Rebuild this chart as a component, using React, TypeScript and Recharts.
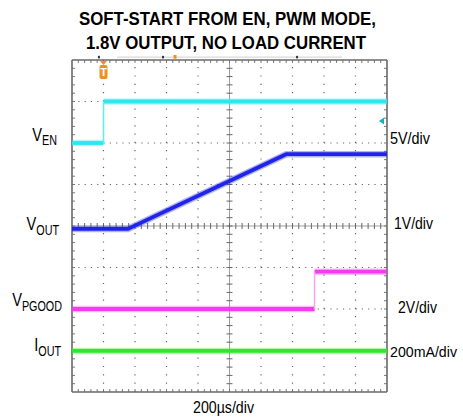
import React from 'react';
import { LineChart, Line, XAxis, YAxis, ReferenceLine, ReferenceDot } from 'recharts';

// scope capture, 200us/div, 10 x 8 divisions
const enTimeUs = [0, 200, 200, 2000];
const enVolts = [0, 0, 5, 5];
const outTimeUs = [0, 355, 1360, 2000];
const outVolts = [0, 0, 1.8, 1.8];
const pgoodTimeUs = [0, 1540, 1540, 2000];
const pgoodVolts = [0, 0, 1.8, 1.8];
const ioutTimeUs = [0, 2000];
const ioutMilliamps = [0, 0];

const majorTimes = [200, 400, 600, 800, 1200, 1400, 1600, 1800];
const majorDivs = [1, 2, 3, 5, 6, 7];

const channels = [
  { name: 'en', time: enTimeUs, values: enVolts, perDiv: 5, zeroDiv: 6.0, color: '#2ee6ee', edge: '#5eeef4' },
  { name: 'out', time: outTimeUs, values: outVolts, perDiv: 1, zeroDiv: 3.93, color: '#1f24e8', edge: '#4a50f0' },
  { name: 'pgood', time: pgoodTimeUs, values: pgoodVolts, perDiv: 2, zeroDiv: 2.0, color: '#f23cee', edge: '#f7a6f2' },
  { name: 'iout', time: ioutTimeUs, values: ioutMilliamps, perDiv: 200, zeroDiv: 0.99, color: '#2ee82e', edge: '#2ee82e' },
];

type Pt = { t: number; v: number };

function splitTrace(ch: (typeof channels)[number]) {
  const pts: Pt[] = ch.time.map((t, i) => ({ t, v: ch.zeroDiv + ch.values[i] / ch.perDiv }));
  const runs: Pt[][] = [];
  const edges: Pt[][] = [];
  let run: Pt[] = [pts[0]];
  for (let i = 0; i < pts.length - 1; i++) {
    if (pts[i].t === pts[i + 1].t) {
      runs.push(run);
      edges.push([pts[i], pts[i + 1]]);
      run = [pts[i + 1]];
    } else {
      run.push(pts[i + 1]);
    }
  }
  runs.push(run);
  return { runs, edges };
}

const subX = Array.from({ length: 49 }, (_, i) => (i + 1) * 40);
const subY = Array.from({ length: 39 }, (_, i) => +((i + 1) * 0.2).toFixed(2));
const TX = 19; // 3px in time units
const TY = 0.072; // 3px in div units

const font = '"Liberation Sans", Arial, sans-serif';

function Trigger({ cx, cy }: any) {
  return (
    <g>
      <polygon points={`${cx - 3.5},${cy + 1} ${cx + 3.5},${cy + 1} ${cx},${cy + 5}`} fill="#f0901e" />
      <rect x={cx - 4} y={cy + 5} width={8} height={14} rx={2} fill="#f0901e" />
      <text x={cx} y={cy + 16} textAnchor="middle" fontSize={11} fontWeight="bold" fill="#fff" fontFamily={font}>
        T
      </text>
    </g>
  );
}

function LevelMark({ cx, cy }: any) {
  return <polygon points={`${cx - 8},${cy} ${cx - 3},${cy - 3.5} ${cx - 3},${cy + 3.5}`} fill="#1fb0b4" />;
}

function LeftLabel({ main, sub, right, y }: { main: string; sub: string; right: number; y: number }) {
  return (
    <g transform={`translate(${right},${y}) scale(0.77,1)`}>
      <text textAnchor="end" fontSize={19} fontFamily={font} fill="#000">
        {main}
        <tspan fontSize={14} dy={4.5}>
          {sub}
        </tspan>
      </text>
    </g>
  );
}

export default function App() {
  return (
    <div style={{ position: 'absolute', left: 0, top: 0, width: 463, height: 417, background: '#fff' }}>
      <LineChart width={463} height={417} margin={{ top: 60, right: 76, bottom: 25, left: 72 }}>
        <XAxis type="number" dataKey="t" domain={[0, 2000]} hide />
        <YAxis type="number" dataKey="v" domain={[0, 8]} hide />

        {majorTimes.map((t) => (
          <ReferenceLine key={'gx' + t} x={t} stroke="#666" strokeWidth={1.2} strokeDasharray="1.2 7.1" />
        ))}
        {majorDivs.map((d) => (
          <ReferenceLine key={'gy' + d} y={d} stroke="#666" strokeWidth={1.2} strokeDasharray="1.2 5.1" />
        ))}
        <ReferenceLine x={1000} stroke="#a0a0a0" />
        <ReferenceLine y={4} stroke="#a0a0a0" />

        {subX.map((t) => (
          <ReferenceLine key={'cx' + t} segment={[{ x: t, y: 4 - TY }, { x: t, y: 4 + TY }]} stroke="#666" />
        ))}
        {subY.map((d) => (
          <ReferenceLine key={'cy' + d} segment={[{ x: 1000 - TX, y: d }, { x: 1000 + TX, y: d }]} stroke="#666" />
        ))}
        {subX.map((t) => (
          <ReferenceLine key={'bx' + t} segment={[{ x: t, y: 0 }, { x: t, y: TY }]} stroke="#777" />
        ))}
        {subX.map((t) => (
          <ReferenceLine key={'tx' + t} segment={[{ x: t, y: 8 }, { x: t, y: 8 - TY }]} stroke="#777" />
        ))}
        {subY.map((d) => (
          <ReferenceLine key={'ly' + d} segment={[{ x: 0, y: d }, { x: TX, y: d }]} stroke="#777" />
        ))}
        {subY.map((d) => (
          <ReferenceLine key={'ry' + d} segment={[{ x: 2000, y: d }, { x: 2000 - TX, y: d }]} stroke="#777" />
        ))}

        <ReferenceLine x={0} stroke="#6a6a6a" strokeWidth={1.6} />
        <ReferenceLine x={2000} stroke="#6a6a6a" strokeWidth={1.6} />
        <ReferenceLine y={0} stroke="#6a6a6a" strokeWidth={1.6} />
        <ReferenceLine y={8} stroke="#6a6a6a" strokeWidth={1.6} />

        <ReferenceLine ifOverflow="visible" segment={[{ x: 286, y: 8.07 }, { x: 1714, y: 8.07 }]} stroke="#cfcfcf" />
        {[171, 578, 1429].map((t) => (
          <ReferenceLine key={'hm' + t} ifOverflow="visible" segment={[{ x: t, y: 8.04 }, { x: t, y: 8.1 }]} stroke="#333" strokeWidth={2} />
        ))}
        <ReferenceLine ifOverflow="visible" segment={[{ x: 654, y: 8.03 }, { x: 654, y: 8.12 }]} stroke="#f0901e" strokeWidth={3} />

        {channels.flatMap((ch) => {
          const { runs, edges } = splitTrace(ch);
          const out: React.ReactNode[] = [];
          runs.forEach((r, i) => {
            out.push(
              <Line key={ch.name + 'h' + i} data={r} dataKey="v" type="linear" stroke={ch.color} strokeOpacity={0.35} strokeWidth={6.5} dot={false} isAnimationActive={false} />,
              <Line key={ch.name + 'c' + i} data={r} dataKey="v" type="linear" stroke={ch.color} strokeWidth={3.8} dot={false} isAnimationActive={false} />
            );
          });
          edges.forEach((e, i) => {
            out.push(
              <Line key={ch.name + 'e' + i} data={e} dataKey="v" type="linear" stroke={ch.edge} strokeWidth={1.5} dot={false} isAnimationActive={false} />
            );
          });
          return out;
        })}

        <ReferenceDot x={200} y={8} r={0} shape={Trigger} />
        <ReferenceDot x={2000} y={6.53} r={0} shape={LevelMark} />
      </LineChart>

      <svg width={463} height={417} style={{ position: 'absolute', left: 0, top: 0, pointerEvents: 'none' }}>
        <g fontFamily={font} fill="#000">
          <text x={227.5} y={25} textAnchor="middle" fontSize={19} fontWeight="bold" textLength={297} lengthAdjust="spacingAndGlyphs">
            SOFT-START FROM EN, PWM MODE,
          </text>
          <text x={226} y={49} textAnchor="middle" fontSize={19} fontWeight="bold" textLength={280} lengthAdjust="spacingAndGlyphs">
            1.8V OUTPUT, NO LOAD CURRENT
          </text>
          <text x={390} y={144} fontSize={16} textLength={40} lengthAdjust="spacingAndGlyphs">5V/div</text>
          <text x={394} y={229} fontSize={16} textLength={39} lengthAdjust="spacingAndGlyphs">1V/div</text>
          <text x={398} y={313} fontSize={16} textLength={39} lengthAdjust="spacingAndGlyphs">2V/div</text>
          <text x={390} y={357} fontSize={15} textLength={67} lengthAdjust="spacingAndGlyphs">200mA/div</text>
          <text x={193} y={413} fontSize={16} textLength={61} lengthAdjust="spacingAndGlyphs">200µs/div</text>
        </g>
        <LeftLabel main="V" sub="EN" right={57} y={140.5} />
        <LeftLabel main="V" sub="OUT" right={59} y={230} />
        <LeftLabel main="V" sub="PGOOD" right={62} y={306} />
        <LeftLabel main="I" sub="OUT" right={61} y={351} />
      </svg>
    </div>
  );
}
